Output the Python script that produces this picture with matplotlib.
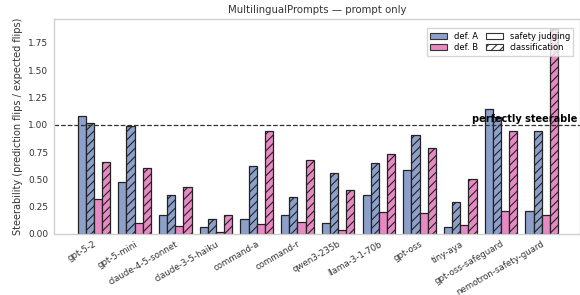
import numpy as np
import matplotlib.pyplot as plt
from matplotlib.patches import Patch

models = [
    "gpt-5-2", "gpt-5-mini", "claude-4-5-sonnet", "claude-3-5-haiku",
    "command-a", "command-r", "qwen3-235b", "llama-3-1-70b", "gpt-oss",
    "tiny-aya", "gpt-oss-safeguard", "nemotron-safety-guard",
]
# def. A / def. B, safety judging vs classification
a_judging = [1.08, 0.48, 0.17, 0.06, 0.14, 0.17, 0.10, 0.36, 0.59, 0.06, 1.14, 0.21]
a_classif = [1.02, 0.99, 0.36, 0.14, 0.62, 0.34, 0.56, 0.65, 0.91, 0.29, 1.07, 0.94]
b_judging = [0.32, 0.10, 0.07, 0.02, 0.09, 0.11, 0.04, 0.20, 0.19, 0.08, 0.21, 0.17]
b_classif = [0.66, 0.60, 0.43, 0.17, 0.94, 0.68, 0.40, 0.73, 0.79, 0.50, 0.94, 1.88]

COL_A = "#8da0cb"
COL_B = "#e78ac3"


def main():
    plt.rcParams["font.family"] = "DejaVu Sans"
    plt.rcParams["hatch.linewidth"] = 0.8
    fig = plt.figure(figsize=(5.8, 2.95), dpi=100)
    ax = fig.add_axes([0.093, 0.207, 0.907, 0.729])

    x = np.arange(len(models))
    w = 0.2
    series = [
        (a_judging, COL_A, ""),
        (a_classif, COL_A, "////"),
        (b_judging, COL_B, ""),
        (b_classif, COL_B, "////"),
    ]
    for i, (vals, col, hatch) in enumerate(series):
        ax.bar(x + (i - 1.5) * w, vals, w, color=col, edgecolor="#222222",
               linewidth=0.9, hatch=hatch)

    ax.axhline(1.0, color="#333333", linestyle="--", linewidth=0.9)
    ax.text(0.995, 1.008, "perfectly steerable", transform=ax.get_yaxis_transform(),
            ha="right", va="bottom", fontsize=7, fontweight="bold")

    ax.set_xlim(-0.98, 11.94)
    ax.set_ylim(0, 1.97)
    ax.set_yticks([0, 0.25, 0.5, 0.75, 1.0, 1.25, 1.5, 1.75])
    ax.set_yticklabels([f"{v:.2f}" for v in ax.get_yticks()])
    ax.set_xticks(x)
    ax.set_xticklabels(models, rotation=30, ha="right", rotation_mode="anchor")
    ax.tick_params(axis="x", length=0, labelsize=6.2, colors="#333333", pad=4)
    ax.tick_params(axis="y", length=0, labelsize=6.5, colors="#333333", pad=4)
    ax.set_ylabel("Steerability (prediction flips / expected flips)", fontsize=7, color="#333333")
    ax.set_title("MultilingualPrompts \u2014 prompt only", fontsize=7.3, color="#333333", pad=4)
    for s in ax.spines.values():
        s.set_color("#d0d0d0")
        s.set_linewidth(1.0)

    handles = [
        Patch(facecolor=COL_A, edgecolor="#333333", linewidth=0.8, label="def. A"),
        Patch(facecolor=COL_B, edgecolor="#333333", linewidth=0.8, label="def. B"),
        Patch(facecolor="white", edgecolor="#333333", linewidth=0.8, label="safety judging"),
        Patch(facecolor="white", edgecolor="#333333", linewidth=0.8, hatch="////", label="classification"),
    ]
    ax.legend(handles=handles, ncol=2, loc="upper right", fontsize=6, frameon=True,
              handlelength=2.0, handleheight=0.7, columnspacing=1.0, borderpad=0.4,
              labelspacing=0.3, framealpha=0.8, edgecolor="#cccccc", fancybox=False,
              bbox_to_anchor=(0.995, 0.975))

    fig.savefig("out.png", dpi=100)


if __name__ == "__main__":
    main()
